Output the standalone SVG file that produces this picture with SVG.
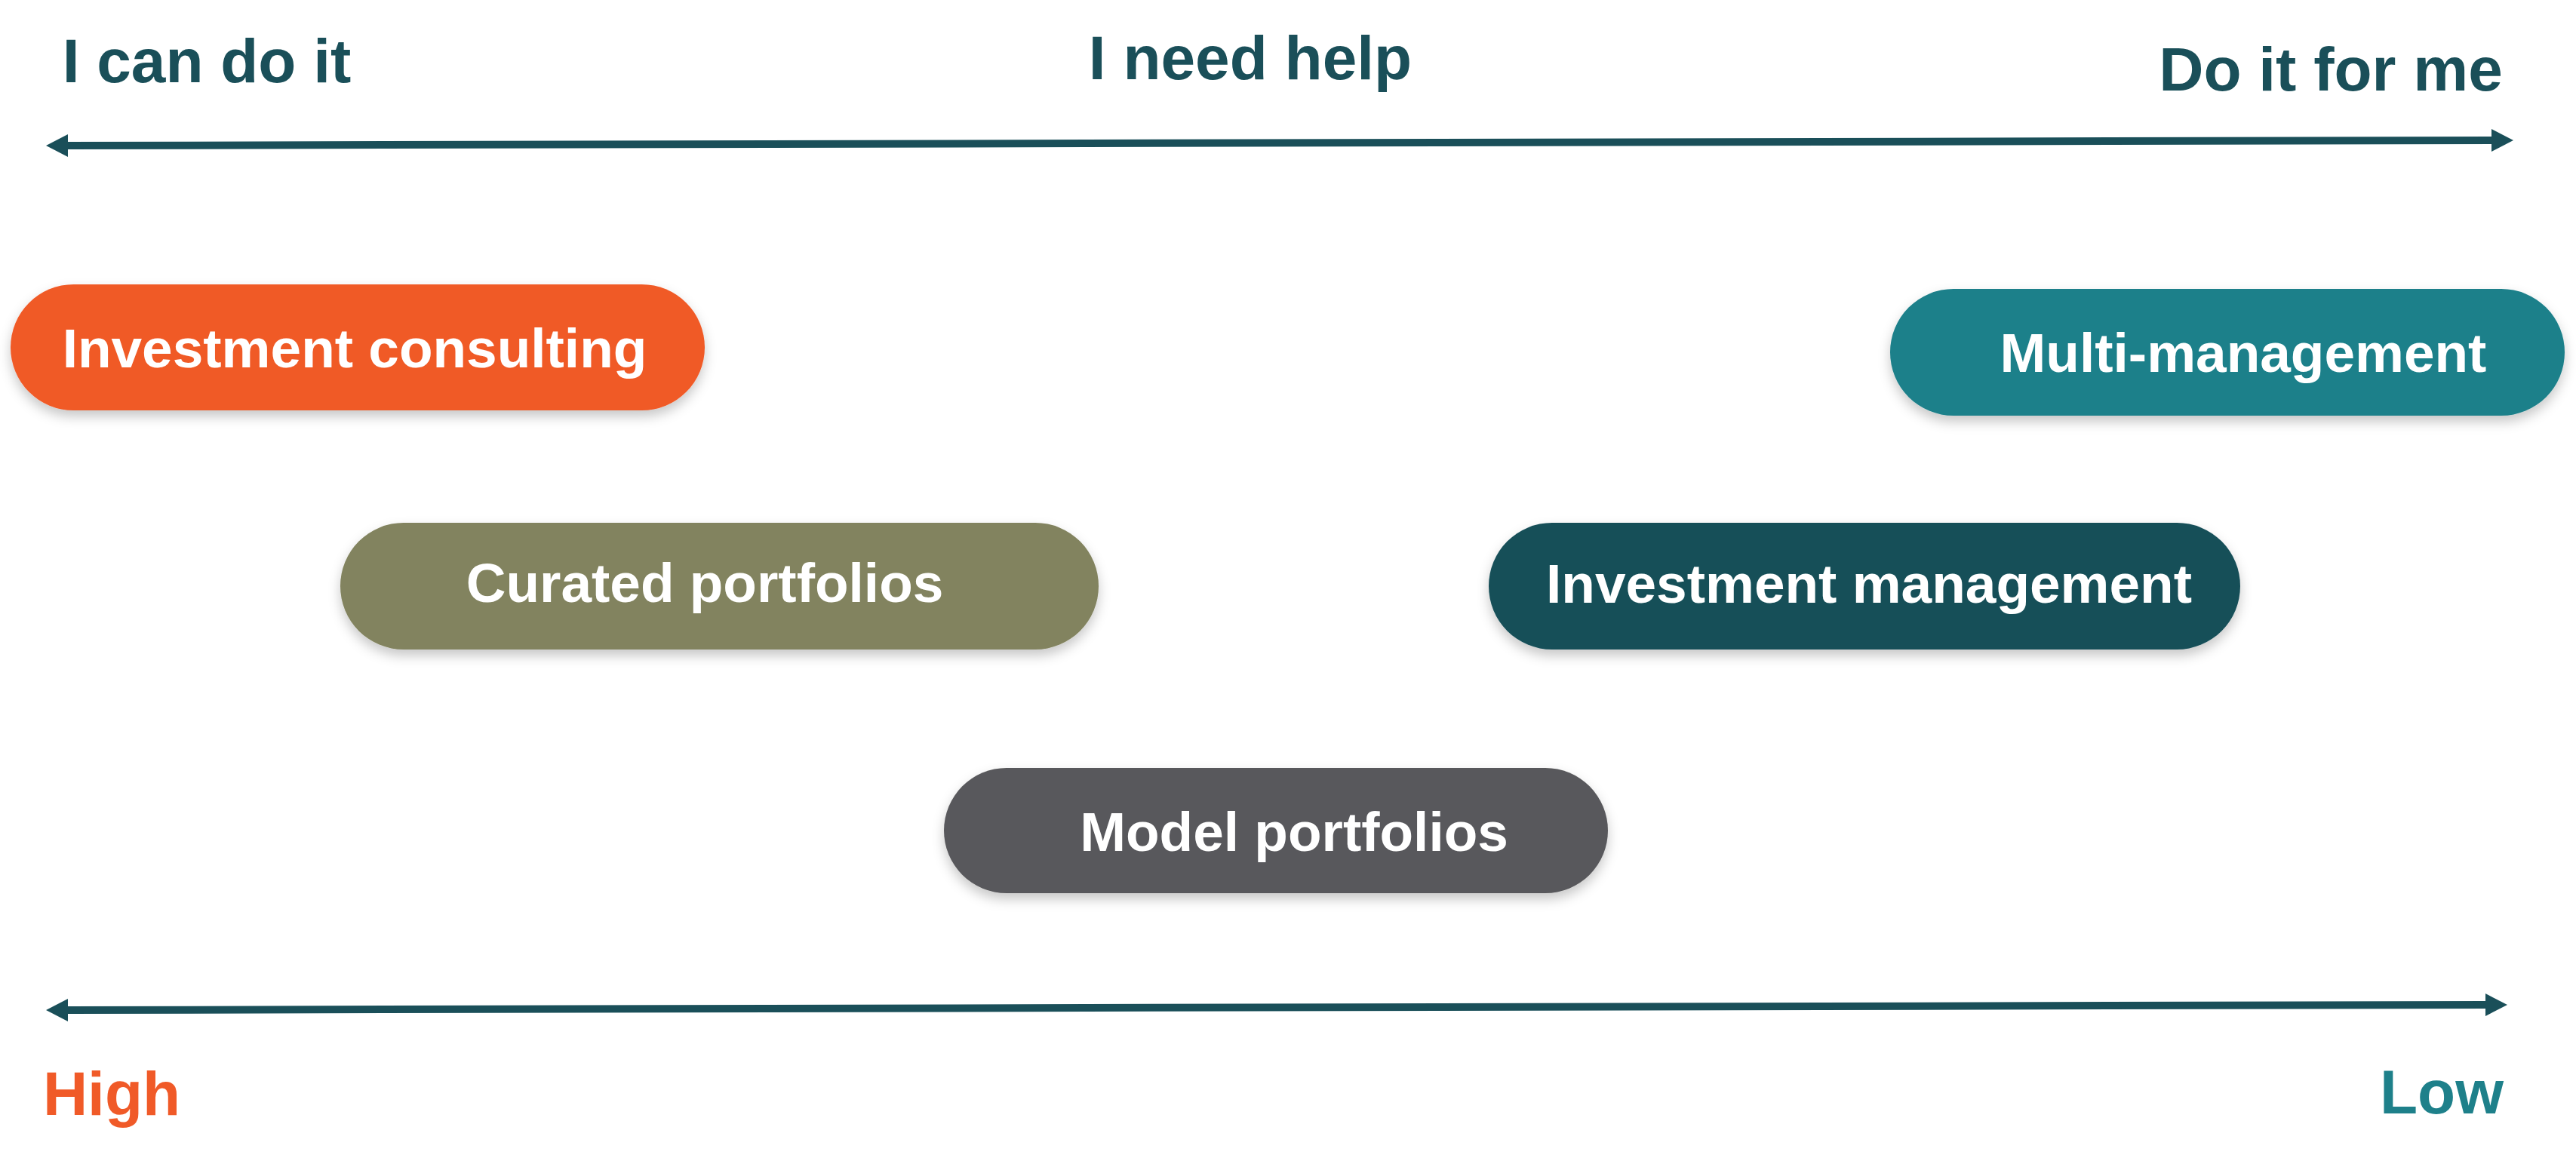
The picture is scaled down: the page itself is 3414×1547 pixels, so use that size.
<svg xmlns="http://www.w3.org/2000/svg" width="3414" height="1547" viewBox="0 0 3414 1547">
<style>
.hdr{font-family:"Liberation Sans",Arial,sans-serif;font-weight:bold;font-size:82px;fill:#1A4F59;text-anchor:middle}
.lbl{font-family:"Liberation Sans",Arial,sans-serif;font-weight:bold;font-size:73px;fill:#FFFFFF;text-anchor:middle}
.axis{stroke:#1A4F59;stroke-width:10;fill:none}
</style>
<defs>
<marker id="ah" markerUnits="userSpaceOnUse" markerWidth="30" markerHeight="32" refX="0" refY="16" orient="auto-start-reverse" viewBox="0 0 30 32">
<path d="M0,1 L29,16 L0,31 Z" fill="#1A4F59"/>
</marker>
<filter id="sh" x="-10%" y="-30%" width="120%" height="170%">
<feDropShadow dx="0" dy="8" stdDeviation="8" flood-color="#000" flood-opacity="0.22"/>
</filter>
</defs>
<rect width="3414" height="1547" fill="#FFFFFF"/>
<g id="headers">
<text class="hdr" x="274" y="109">I can do it</text>
<text class="hdr" x="1657" y="105">I need help</text>
<text class="hdr" x="3089" y="120">Do it for me</text>
</g>
<g id="connectors">
<line class="axis" x1="90" y1="193" x2="3302" y2="186" marker-start="url(#ah)" marker-end="url(#ah)"/>
<line class="axis" x1="90" y1="1339" x2="3294" y2="1332" marker-start="url(#ah)" marker-end="url(#ah)"/>
</g>
<g id="investment-consulting">
<rect x="14" y="377" width="920" height="167" rx="83.5" fill="#F05A28" filter="url(#sh)"/>
<text class="lbl" x="470" y="487">Investment consulting</text>
</g>
<g id="multi-management">
<rect x="2505" y="383" width="894" height="168" rx="84" fill="#1E808A" filter="url(#sh)"/>
<text class="lbl" x="2973" y="493">Multi-management</text>
</g>
<g id="curated-portfolios">
<rect x="451" y="693" width="1005" height="168" rx="84" fill="#82835E" filter="url(#sh)"/>
<text class="lbl" x="934" y="798">Curated portfolios</text>
</g>
<g id="investment-management">
<rect x="1973" y="693" width="996" height="168" rx="84" fill="#184F59" filter="url(#sh)"/>
<text class="lbl" x="2477" y="799">Investment management</text>
</g>
<g id="model-portfolios">
<rect x="1251" y="1018" width="880" height="166" rx="83" fill="#59595B" filter="url(#sh)"/>
<text class="lbl" x="1715" y="1128">Model portfolios</text>
</g>
<g id="scale-labels">
<text class="hdr" x="148" y="1478" style="fill:#F05A28">High</text>
<text class="hdr" x="3236" y="1476" style="fill:#1E808A">Low</text>
</g>
</svg>
